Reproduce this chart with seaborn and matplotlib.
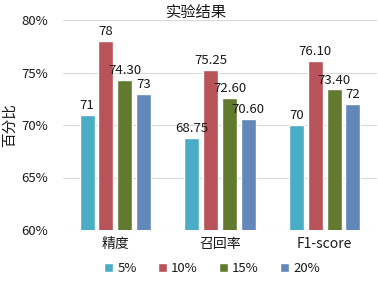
import pandas as pd
import matplotlib
matplotlib.use("Agg")
import matplotlib.pyplot as plt
import seaborn as sns

# data
metrics = ['精度', '召回率', 'F1-score']
ratios = ['5%', '10%', '15%', '20%']
vals_5 = [71, 68.75, 70]
vals_10 = [78, 75.25, 76.10]
vals_15 = [74.30, 72.60, 73.40]
vals_20 = [73, 70.60, 72]
labels_5 = ['71', '68.75', '70']
labels_10 = ['78', '75.25', '76.10']
labels_15 = ['74.30', '72.60', '73.40']
labels_20 = ['73', '70.60', '72']
colors = ['#4BACC6', '#B9535A', '#627A30', '#6188B8']

rows = []
for r, v, lab in zip(ratios, [vals_5, vals_10, vals_15, vals_20],
                     [labels_5, labels_10, labels_15, labels_20]):
    for m, x, l in zip(metrics, v, lab):
        rows.append({'metric': m, 'ratio': r, 'value': x, 'label': l})
df = pd.DataFrame(rows)

sns.set_style("white")
plt.rcParams['font.family'] = ['Noto Sans CJK SC', 'DejaVu Sans']
txt = '#1a1a1a'

fig = plt.figure(figsize=(3.78, 2.85), dpi=100)
ax = fig.add_axes([63/378, 1 - 230/285, 314/378, 210/285])

sns.barplot(data=df, x='metric', y='value', hue='ratio', palette=colors,
            width=0.72, gap=0.2, ax=ax, legend=True, zorder=3, saturation=1)

ax.set_ylim(60, 80)
ax.set_yticks([60, 65, 70, 75, 80])
ax.set_yticklabels(['60%', '65%', '70%', '75%', '80%'], fontsize=9.5, color=txt)
ax.yaxis.grid(True, color='#D9D9D9', linewidth=0.8, zorder=0)
ax.set_axisbelow(True)
for s in ax.spines.values():
    s.set_visible(False)
ax.tick_params(axis='y', length=0, pad=11)
ax.tick_params(axis='x', length=0, labelsize=10, pad=5, labelcolor=txt)
ax.set_xlabel('')
ax.set_ylabel('')

for cont, r in zip(ax.containers, ratios):
    labs = df[df['ratio'] == r]['label'].tolist()
    ax.bar_label(cont, labels=labs, fontsize=9.5, padding=2, color=txt)

fig.text(196/378, 1 - 12/285, '实验结果', ha='center', va='center', fontsize=11, color=txt)
fig.text(10/378, 1 - 125/285, '百分比', ha='center', va='center', rotation=90, fontsize=10.5, color=txt)

leg = ax.legend(loc='center', bbox_to_anchor=(0.5 + (212 - 220)/314, -0.185), ncol=4,
                frameon=False, fontsize=9.5, handlelength=0.7, handleheight=0.7,
                handletextpad=0.3, columnspacing=1.6)
for t in leg.get_texts():
    t.set_color(txt)

fig.savefig('out.png', dpi=100)
